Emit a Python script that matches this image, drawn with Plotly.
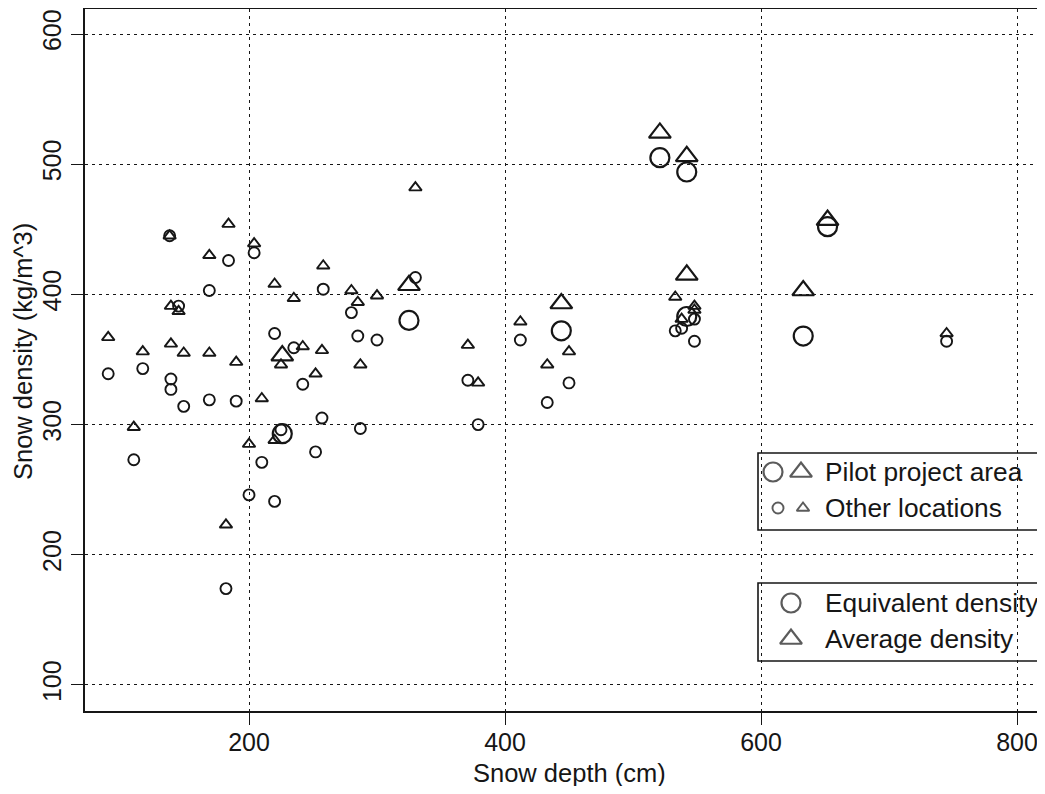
import plotly.graph_objects as go

# ---------------- data ----------------
pilot_depth = [226, 325, 444, 521, 542, 542, 633, 652]
pilot_equiv = [293, 380, 372, 505, 494, 383, 368, 452]
pilot_avg = [353, 407, 393, 524, 506, 415, 403, 457]

other_depth = [90, 110, 117, 138, 139, 139, 145, 149, 169, 169,
               182, 184, 190, 200, 204, 210, 220, 220, 225, 235,
               242, 252, 257, 258, 280, 285, 287, 300, 330, 371,
               379, 412, 433, 450, 533, 538, 548, 548, 745]
other_equiv = [339, 273, 343, 445, 335, 327, 391, 314, 319, 403,
               174, 426, 318, 246, 432, 271, 241, 370, 296, 359,
               331, 279, 305, 404, 386, 368, 297, 365, 413, 334,
               300, 365, 317, 332, 372, 374, 381, 364, 364]
other_avg = [367, 298, 356, 445, 362, 391, 387, 355, 355, 430,
             223, 454, 348, 285, 439, 320, 288, 408, 346, 397,
             360, 339, 357, 422, 403, 394, 346, 399, 482, 361,
             332, 379, 346, 356, 398, 381, 391, 388, 370]

x_ticks = [200, 400, 600, 800]
y_ticks = [100, 200, 300, 400, 500, 600]

x_title = "Snow depth (cm)"
y_title = "Snow density (kg/m^3)"
legend_group_labels = ["Pilot project area", "Other locations"]
legend_kind_labels = ["Equivalent density", "Average density"]

# ---------------- style ----------------
# the page body keeps an 8px margin on every side; size the figure to fit inside
OFF = 8
W, H = 1045 - 2 * OFF, 794 - 2 * OFF
PLOT_L, PLOT_T, PLOT_B = 85, 9, 711          # page pixel positions
PLOT_R = OFF + W                              # page pixel of right plot edge
ML, MR, MT, MB = PLOT_L - OFF, 0, PLOT_T - OFF, H - (PLOT_B - OFF)
X_PER_PX = (800 - 200) / (1017 - 249)
X_RANGE = [200 - (249 - PLOT_L) * X_PER_PX, 800 + (PLOT_R - 1017) * X_PER_PX]
Y_RANGE = [80, 619.2]
INK = "#161616"
FONT = "Liberation Sans, Arial, Helvetica, sans-serif"
FS_TICK = 25
FS_TITLE = 25.5
FS_LEG = 26.3

SMALL, BIG = 11, 19
SMALL_W, BIG_W = 1.9, 2.2


def mk(symbol, size, lw):
    return dict(symbol=symbol, size=size, color=INK,
                line=dict(width=lw, color=INK))


fig = go.Figure()
fig.add_trace(go.Scatter(x=other_depth, y=other_equiv, mode="markers",
                         marker=mk("circle-open", SMALL, SMALL_W), showlegend=False))
fig.add_trace(go.Scatter(x=other_depth, y=other_avg, mode="markers",
                         marker=mk("triangle-up-open", SMALL, SMALL_W), showlegend=False))
fig.add_trace(go.Scatter(x=pilot_depth, y=pilot_equiv, mode="markers",
                         marker=mk("circle-open", BIG, BIG_W), showlegend=False))
fig.add_trace(go.Scatter(x=pilot_depth, y=pilot_avg, mode="markers",
                         marker=mk("triangle-up-open", BIG, BIG_W), showlegend=False))

# ---------------- legend (overlay axes in page-pixel units) ----------------
rows = [472, 508, 603, 639]
leg_x = [773, 801, 778, 803, 791, 791]
leg_y = [rows[0], rows[0], rows[1], rows[1], rows[2], rows[3]]
leg_sym = ["circle-open", "triangle-up-open", "circle-open", "triangle-up-open",
           "circle-open", "triangle-up-open"]
leg_size = [BIG, BIG, SMALL, SMALL, BIG, BIG]
leg_w = [BIG_W, BIG_W, SMALL_W, SMALL_W, BIG_W, BIG_W]
fig.add_trace(go.Scatter(x=leg_x, y=leg_y, mode="markers", xaxis="x2", yaxis="y2",
                         marker=dict(symbol=leg_sym, size=leg_size, color=INK,
                                     line=dict(width=leg_w, color=INK)),
                         showlegend=False, hoverinfo="skip"))

labels = legend_group_labels + legend_kind_labels
annotations = []
for lab, yy in zip(labels, rows):
    annotations.append(dict(x=823, y=yy, xref="x2", yref="y2", text=lab,
                            showarrow=False, xanchor="left", yanchor="middle",
                            font=dict(family=FONT, size=FS_LEG, color=INK)))


def paper_x(px):
    return (px - PLOT_L) / (PLOT_R - PLOT_L)


def paper_y(py):
    return (PLOT_B - py) / (PLOT_B - PLOT_T)


# axis titles
annotations.append(dict(x=paper_x(569), y=paper_y(773), xref="paper", yref="paper",
                        text=x_title, showarrow=False, xanchor="center", yanchor="middle",
                        font=dict(family=FONT, size=FS_TITLE, color=INK)))
annotations.append(dict(x=paper_x(23), y=paper_y(352), xref="paper", yref="paper",
                        text=y_title, showarrow=False, xanchor="center", yanchor="middle",
                        textangle=-90,
                        font=dict(family=FONT, size=FS_TITLE, color=INK)))

shapes = [
    dict(type="rect", xref="x2", yref="y2", x0=758, x1=1080, y0=453, y1=530,
         line=dict(color=INK, width=1.6), fillcolor="rgba(0,0,0,0)", layer="above"),
    dict(type="rect", xref="x2", yref="y2", x0=758, x1=1080, y0=583, y1=661,
         line=dict(color=INK, width=1.6), fillcolor="rgba(0,0,0,0)", layer="above"),
]

axis_common = dict(
    showline=True, linecolor=INK, linewidth=2,
    ticks="outside", ticklen=12, tickwidth=1.3, tickcolor=INK,
    showgrid=True, gridcolor=INK, gridwidth=1.1, griddash="3px,4px",
    zeroline=False, ticklabeloverflow="allow",
    tickfont=dict(family=FONT, size=FS_TICK, color=INK),
)

fig.update_layout(
    width=W, height=H,
    margin=dict(l=ML, r=MR, t=MT, b=MB, pad=0),
    paper_bgcolor="white", plot_bgcolor="white",
    xaxis=dict(range=X_RANGE, tickmode="array", tickvals=x_ticks,
               mirror=True, ticklabelstandoff=-4, **axis_common),
    yaxis=dict(range=Y_RANGE, tickmode="array", tickvals=y_ticks,
               mirror=False, tickangle=-90, ticklabelstandoff=0, **axis_common),
    xaxis2=dict(range=[PLOT_L, PLOT_R], overlaying="x", visible=False, fixedrange=True),
    yaxis2=dict(range=[PLOT_B, PLOT_T], overlaying="y", visible=False, fixedrange=True),
    annotations=annotations,
    shapes=shapes,
    font=dict(family=FONT, size=FS_TICK, color=INK),
)

fig.write_html("out.html")
